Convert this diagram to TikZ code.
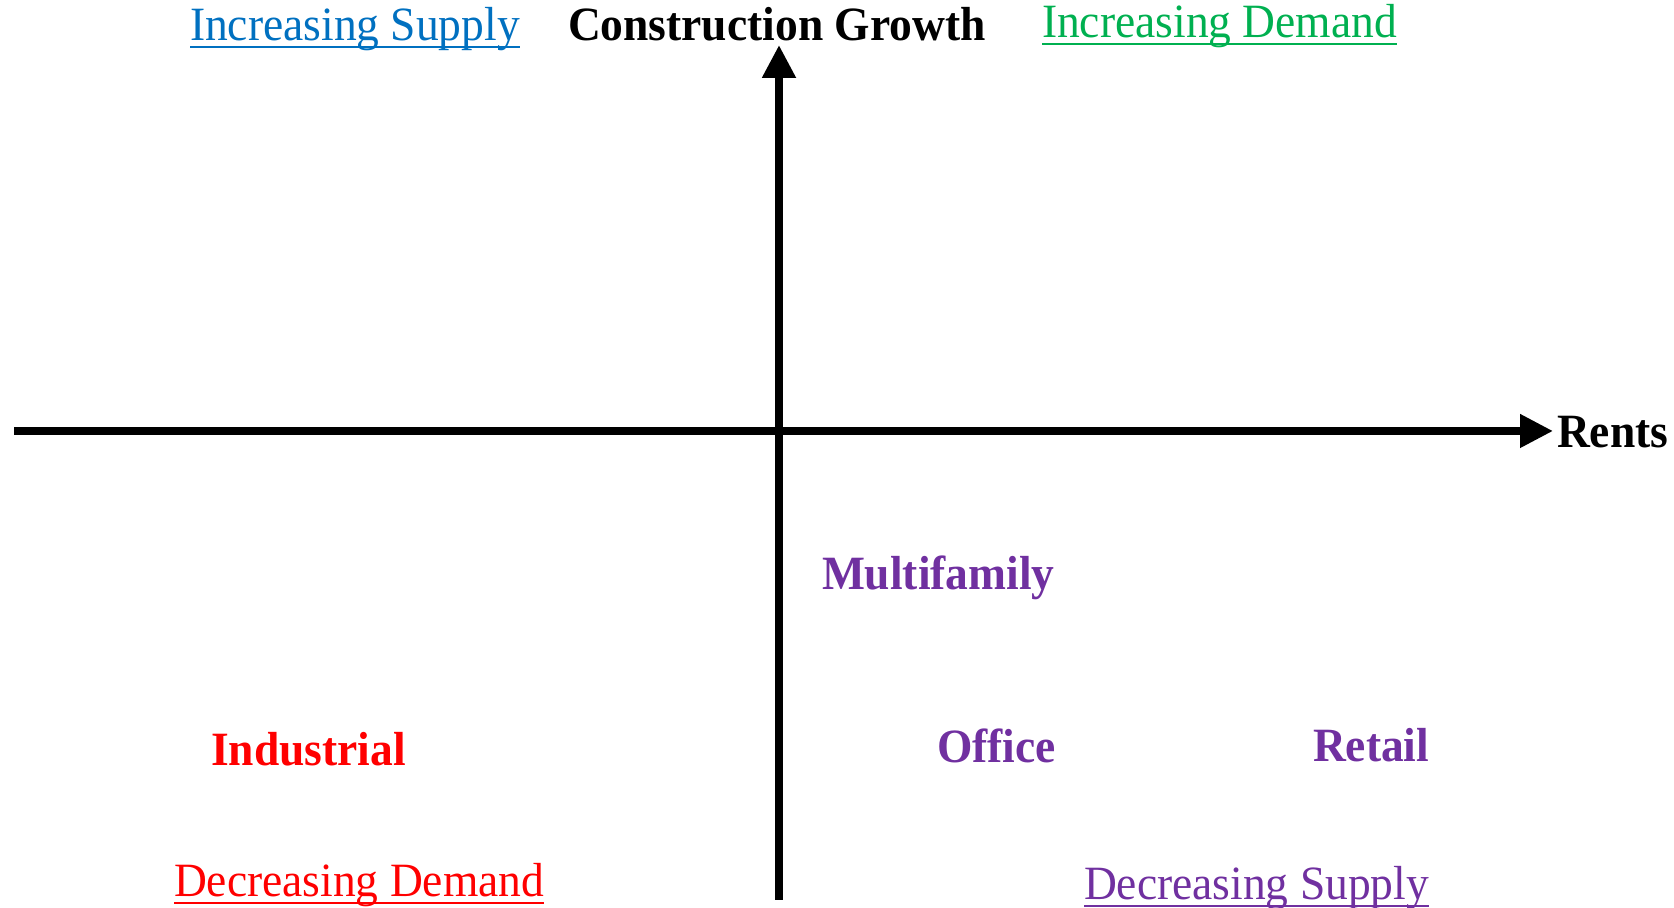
\documentclass[tikz,border=0pt]{standalone}
\usepackage{fontspec}
\setmainfont{Liberation Serif}
\usetikzlibrary{arrows.meta}
\definecolor{supplyblue}{RGB}{0,112,192}
\definecolor{demandgreen}{RGB}{0,176,80}
\definecolor{sectorpurple}{RGB}{112,48,160}
\tikzset{>={Triangle[length=0.66cm,width=0.64cm]}}
\tikzset{lbl/.style={inner sep=0pt, outer sep=0pt, anchor=base west, yscale=1.05, font=\fontsize{25.9pt}{30pt}\selectfont},
  blbl/.style={lbl, font=\fontsize{25.9pt}{30pt}\selectfont\bfseries},
  uline/.style={line width=0.05cm}}

\begin{document}
\begin{tikzpicture}[x=0.02cm, y=0.02cm]
\useasboundingbox (0, 0) rectangle (1674, 908);
\coordinate (left) at (14, 477);
\coordinate (right) at (1553, 477);
\coordinate (bottom) at (779, 8);
\coordinate (top) at (779, 863);
\draw[line width=0.15cm, ->] (left) -- (right);
\draw[line width=0.16cm, ->] (bottom) -- (top);
% axis titles
\node[blbl] (growth) at (568, 867) {Construction Growth};
\node[blbl] (rents) at (1557, 460) {Rents};
% quadrant labels
\node[lbl, text=supplyblue] (incsupply) at (190, 867) {Increasing Supply};
\node[lbl, text=demandgreen] (incdemand) at (1042, 870) {Increasing Demand};
\node[lbl, text=red] (decdemand) at (174, 11) {Decreasing Demand};
\node[lbl, text=sectorpurple] (decsupply) at (1084, 8) {Decreasing Supply};
\draw[uline, supplyblue] ([yshift=-0.12cm]incsupply.base west) -- ([yshift=-0.12cm]incsupply.base east);
\draw[uline, demandgreen] ([yshift=-0.12cm]incdemand.base west) -- ([yshift=-0.12cm]incdemand.base east);
\draw[uline, red] ([yshift=-0.12cm]decdemand.base west) -- ([yshift=-0.12cm]decdemand.base east);
\draw[uline, sectorpurple] ([yshift=-0.12cm]decsupply.base west) -- ([yshift=-0.12cm]decsupply.base east);
% sectors
\node[blbl, text=sectorpurple] (multifamily) at (822, 318) {Multifamily};
\node[blbl, text=red] (industrial) at (211, 142) {Industrial};
\node[blbl, text=sectorpurple] (office) at (937, 145) {Office};
\node[blbl, text=sectorpurple] (retail) at (1313, 146) {Retail};
\end{tikzpicture}
\end{document}
